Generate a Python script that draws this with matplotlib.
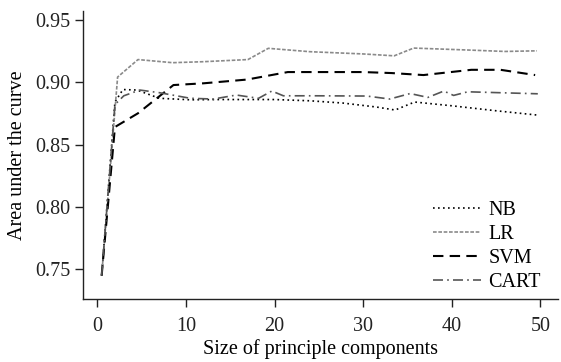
import matplotlib
matplotlib.use("Agg")
import matplotlib.pyplot as plt

nb_x = [0.5, 2.0, 2.9, 4.5, 7.0, 10.5, 14, 20, 24, 27.7, 31.5, 33.6, 35.8, 40, 45, 49.6]
nb_y = [0.745, 0.884, 0.894, 0.8936, 0.887, 0.8858, 0.886, 0.886, 0.885, 0.8832, 0.880, 0.8776, 0.884, 0.881, 0.877, 0.8736]

lr_x = [0.5, 2.3, 4.6, 8.5, 12, 17, 19.3, 24, 30, 33.5, 35.7, 42, 46, 49.6]
lr_y = [0.745, 0.904, 0.918, 0.9155, 0.9163, 0.918, 0.927, 0.9243, 0.9225, 0.921, 0.9272, 0.9256, 0.9245, 0.925]

svm_x = [0.5, 2.0, 4.6, 8.6, 12, 16.9, 21.5, 25, 30, 33.2, 36.8, 42.2, 45.5, 49.4]
svm_y = [0.745, 0.864, 0.875, 0.8976, 0.899, 0.902, 0.908, 0.908, 0.908, 0.9072, 0.9056, 0.9098, 0.9098, 0.9056]

cart_x = [0.5, 2.0, 3.0, 4.8, 7.0, 10.5, 13.1, 15.7, 18.2, 19.7, 21.0, 24.7, 30.4, 33.0, 35.3, 37.3, 39.1, 40.2, 41.8, 49.7]
cart_y = [0.745, 0.882, 0.889, 0.8936, 0.8915, 0.887, 0.8864, 0.8896, 0.887, 0.8928, 0.889, 0.889, 0.8888, 0.8864, 0.8908, 0.8877, 0.8928, 0.8893, 0.8922, 0.8906]

x_ticks = [0, 10, 20, 30, 40, 50]
y_ticks = [0.75, 0.80, 0.85, 0.90, 0.95]

plt.rcParams['font.family'] = ['Liberation Serif', 'DejaVu Serif']
plt.rcParams['font.size'] = 14.5

fig = plt.figure(figsize=(5.61, 3.62), dpi=100)
ax = fig.add_axes([0.148, 0.173, 0.847, 0.797])

ax.plot(nb_x, nb_y, color='black', linestyle=(0, (1, 2)), linewidth=1.2, label='NB')
ax.plot(lr_x, lr_y, color='#8a8a8a', linestyle=(0, (2.2, 1.0)), linewidth=1.2, label='LR')
ax.plot(svm_x, svm_y, color='black', linestyle=(0, (5, 3)), linewidth=1.5, label='SVM')
ax.plot(cart_x, cart_y, color='#555555', linestyle=(0, (6, 2.5, 1, 2.5)), linewidth=1.2, label='CART')

ax.set_xlim(-1.6, 52)
ax.set_ylim(0.726, 0.957)
ax.set_xticks(x_ticks)
ax.set_yticks(y_ticks)
ax.set_yticklabels([f"{v:.2f}" for v in y_ticks])
ax.spines['top'].set_visible(False)
ax.spines['right'].set_visible(False)
for s in ['left', 'bottom']:
    ax.spines[s].set_linewidth(1.0)
    ax.spines[s].set_color('#222222')
ax.tick_params(direction='out', length=6, width=1.0, colors='#222222', labelcolor='#222222')
ax.tick_params(axis='x', pad=7)
ax.tick_params(axis='y', pad=3)

ax.set_xlabel('Size of principle components', labelpad=2)
ax.set_ylabel('Area under the curve', labelpad=6)

ax.legend(loc='lower right', frameon=False, handlelength=2.4, handletextpad=0.35,
          labelspacing=0.24, borderpad=0.0, bbox_to_anchor=(0.985, -0.008))

fig.savefig('out.png', dpi=100)
